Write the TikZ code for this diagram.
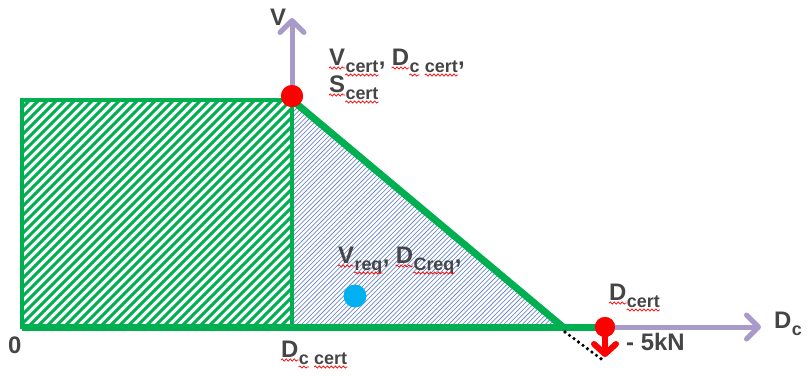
\documentclass[tikz,border=0pt]{standalone}
\usepackage{fontspec}
\setmainfont{Liberation Sans}
\usetikzlibrary{arrows.meta,decorations.pathmorphing}
\definecolor{pgreen}{HTML}{00B050}
\definecolor{ppurple}{HTML}{A99BC9}
\definecolor{pblue}{HTML}{00B0F0}
\definecolor{hatchblue}{HTML}{6F8CC8}
\definecolor{txtgray}{HTML}{454545}
\tikzset{
  mainf/.style={inner sep=0pt, anchor=base west, text=txtgray, font=\fontsize{24}{28}\selectfont\bfseries},
  subf/.style={inner sep=0pt, anchor=base west, text=txtgray, font=\fontsize{18}{20}\selectfont\bfseries},
  wave/.style={draw=red, line width=0.7bp, decorate, decoration={snake, amplitude=1.1bp, segment length=4bp}},
  axis/.style={draw=ppurple, line width=5bp, -{Straight Barb[length=12bp,width=24bp,round]}},
  greenline/.style={draw=pgreen, line width=7bp},
  reddot/.style={circle, fill=red, inner sep=0pt, minimum size=22bp},
}
\newcommand\wav[1]{\draw[wave] ([yshift=-3bp]#1.base west) -- ([yshift=-3bp]#1.base east);}
\begin{document}
\begin{tikzpicture}[x=1bp,y=-1bp]
\useasboundingbox (0,0) rectangle (807,376);
\coordinate (O) at (22,327);
\coordinate (TL) at (22,100);
\coordinate (C) at (292,100);
\coordinate (B) at (292,327);
\coordinate (A) at (563,327);
\coordinate (E) at (605,327);
% blue hatched triangle
\begin{scope}
  \clip (C) -- (B) -- (A) -- cycle;
  \foreach \i in {0,4.6,...,520} \draw[hatchblue, line width=0.75bp] (292-240+\i,330) -- ++(240,-240);
\end{scope}
% green hatched rectangle
\begin{scope}
  \clip (TL) rectangle (B);
  \foreach \i in {0,9,...,520} \draw[pgreen, line width=3bp] (22-240+\i,330) -- ++(240,-240);
\end{scope}
\draw[pgreen, line width=4bp] (TL) rectangle (B);
% green outline of triangle and bottom
\draw[greenline, line cap=round] (C) -- (A);
\draw[greenline] (O) -- (E);
% axes
\node[reddot] (top) at (292,96) {};
\coordinate (vtip) at (292,18);
\draw[axis] (top.center) -- (vtip);
\node[reddot, minimum size=20bp] (rd) at (E) {};
\coordinate (dtip) at (761,327);
\draw[axis] (rd.center) -- (dtip);
\node[reddot] at (292,96) {};
\node[reddot, minimum size=20bp] at (E) {};
% red arrow
\coordinate (rtip) at (605,357);
\draw[red, line width=6bp, -{Straight Barb[length=10bp,width=22bp,round]}] (rd.center) -- (rtip);
% dotted line
\coordinate (dA) at (565,332);
\coordinate (dB) at (604,361);
\draw[black, line width=3.6bp, line cap=round, dash pattern=on 0bp off 5.6bp] (dA) -- (dB);
% blue dot
\node[circle, fill=pblue, inner sep=0pt, minimum size=23bp] (req) at (355,296) {};
% labels
\node[mainf] (vlab) at (270,25) {V};
% V_cert, D_c cert,
\node[mainf] (vc1) at (329,65) {V};
\node[subf] (vc2) at ([yshift=-7bp]vc1.base east) {cert};
\node[mainf] (vc3) at (vc2.base east |- vc1.base) {,};
\node[mainf] (vc4) at ([xshift=6bp]vc3.base east) {D};
\node[subf] (vc5) at ([yshift=-7bp]vc4.base east) {c};
\node[subf] (vc6) at ([xshift=5bp]vc5.base east) {cert};
\node[mainf] (vc7) at (vc6.base east |- vc4.base) {,};
\wav{vc1}\wav{vc2}\wav{vc4}\wav{vc5}\wav{vc6}
% S_cert
\node[mainf] (sc1) at (329,92) {S};
\node[subf] (sc2) at ([yshift=-7bp]sc1.base east) {cert};
\wav{sc1}\wav{sc2}
% V_req, D_Creq,
\node[mainf] (vr1) at (338,263) {V};
\node[subf] (vr2) at ([yshift=-7bp]vr1.base east) {req};
\node[mainf] (vr3) at (vr2.base east |- vr1.base) {,};
\node[mainf] (vr4) at ([xshift=6bp]vr3.base east) {D};
\node[subf] (vr5) at ([yshift=-7bp]vr4.base east) {Creq};
\node[mainf] (vr6) at (vr5.base east |- vr4.base) {,};
\wav{vr1}\wav{vr2}\wav{vr4}\wav{vr5}
% 0
\node[mainf] (zero) at (8,353) {0};
% D_c cert (bottom)
\node[mainf] (dc1) at (281,357) {D};
\node[subf] (dc2) at ([yshift=-7bp]dc1.base east) {c};
\node[subf] (dc3) at ([xshift=5bp]dc2.base east) {cert};
\wav{dc1}\wav{dc2}\wav{dc3}
% D_cert
\node[mainf] (de1) at (609,300) {D};
\node[subf] (de2) at ([yshift=-7bp]de1.base east) {cert};
\wav{de1}\wav{de2}
% - 5kN
\node[mainf] (kn) at (626,350) {- 5kN};
% D_c axis label
\node[mainf] (dx1) at (774,328) {D};
\node[subf] (dx2) at ([yshift=-7bp]dx1.base east) {c};
\end{tikzpicture}
\end{document}
